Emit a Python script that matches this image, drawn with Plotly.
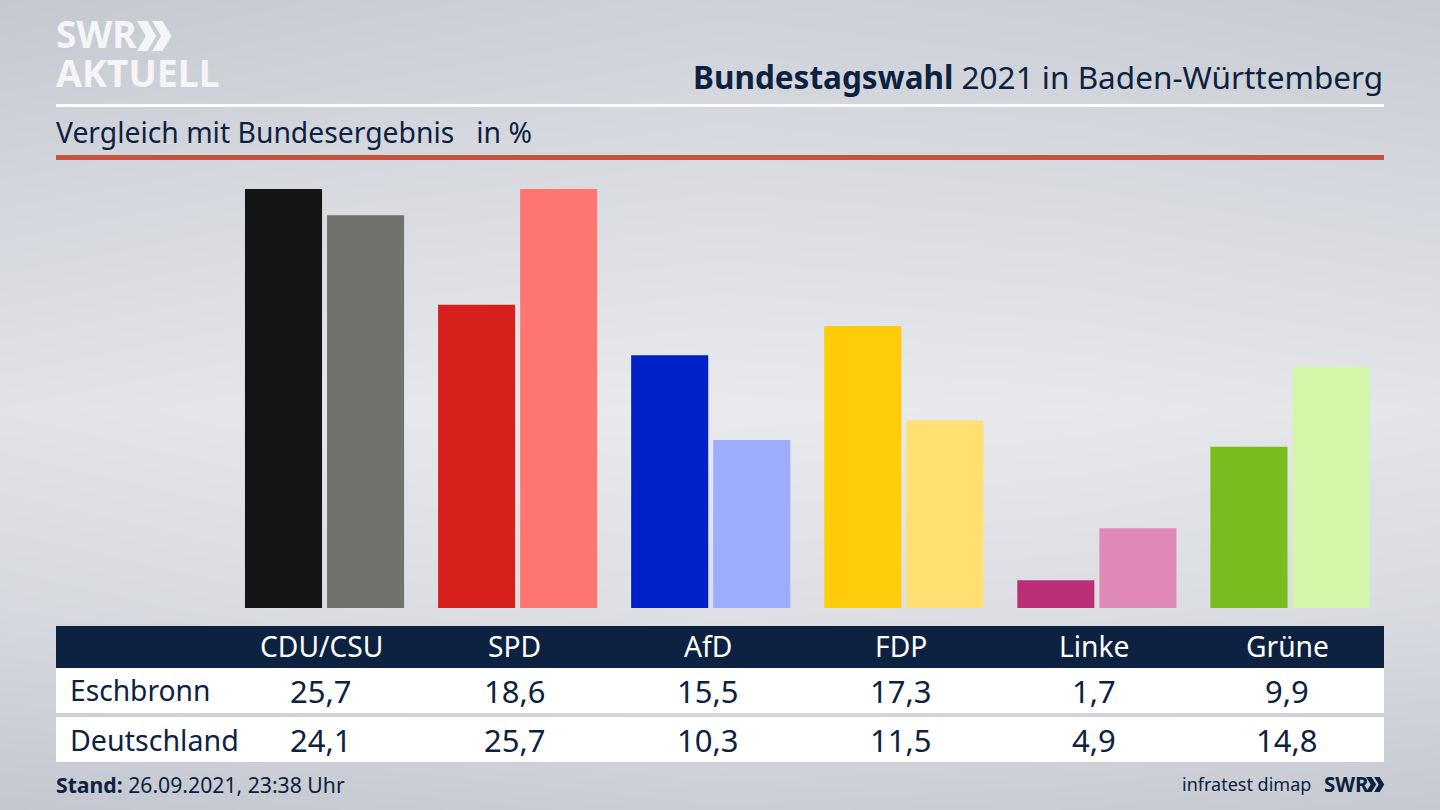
import plotly.graph_objects as go

W, H = 1440, 810
FONT = "Noto Sans"
NAVY = "#0d2240"

parties = ["CDU/CSU", "SPD", "AfD", "FDP", "Linke", "Grüne"]
eschbronn = [25.7, 18.6, 15.5, 17.3, 1.7, 9.9]
deutschland = [24.1, 25.7, 10.3, 11.5, 4.9, 14.8]
eschbronn_labels = ["25,7", "18,6", "15,5", "17,3", "1,7", "9,9"]
deutschland_labels = ["24,1", "25,7", "10,3", "11,5", "4,9", "14,8"]
colors_local = ["#141414", "#d7201c", "#0020c8", "#ffcc0a", "#bc2e78", "#78bc1e"]
colors_bund = ["#72716e", "#ff7670", "#9eaeff", "#ffe070", "#e088b6", "#d4f6a8"]

# backdrop brightness, rows bottom to top, columns left to right
bg_y = [0, 200, 400, 600, 810]
bg_x = [0, 360, 720, 1080, 1440]
bg_z = [
    [196, 200, 204, 202, 198],
    [216, 221, 224, 222, 218],
    [228, 233, 236, 234, 230],
    [214, 219, 222, 220, 216],
    [197, 203, 208, 205, 200],
]


def sx(px):
    return px / W


def sy(px):
    return 1 - px / H


def rect(x0, y0, x1, y1, color):
    return dict(type="rect", xref="paper", yref="paper", x0=sx(x0), x1=sx(x1), y0=sy(y0), y1=sy(y1),
                fillcolor=color, line_width=0, layer="above")


def chevrons(x, top, bottom, w, color):
    # the two arrows of the SWR logo
    mid = (top + bottom) / 2
    out = []
    for off in (0, w * 0.95):
        pts = [(x + off, top), (x + off + w * 0.65, top), (x + off + w * 1.2, mid),
               (x + off + w * 0.65, bottom), (x + off, bottom), (x + off + w * 0.55, mid)]
        path = "M" + " L".join(f"{sx(a):.5f},{sy(b):.5f}" for a, b in pts) + " Z"
        out.append(dict(type="path", xref="paper", yref="paper", path=path, fillcolor=color, line_width=0, layer="above"))
    return out


def label(x, y, text, size, color=NAVY, anchor="center"):
    return dict(xref="paper", yref="paper", x=sx(x), y=sy(y), text=text, showarrow=False, xanchor=anchor,
                yanchor="middle", font=dict(family=FONT, size=size, color=color))


fig = go.Figure()
fig.add_trace(go.Heatmap(x=bg_x, y=bg_y, z=bg_z, zsmooth="best", showscale=False, hoverinfo="skip",
                         zmin=190, zmax=240, colorscale=[[0, "#bec2cb"], [1, "#ecedf0"]], xaxis="x", yaxis="y"))
fig.add_trace(go.Bar(x=parties, y=eschbronn, marker_color=colors_local, marker_line_width=0, xaxis="x2", yaxis="y2"))
fig.add_trace(go.Bar(x=parties, y=deutschland, marker_color=colors_bund, marker_line_width=0, xaxis="x2", yaxis="y2"))

shapes = [
    rect(56, 104, 1384, 107, "#ffffff"),
    rect(56, 155, 1384, 160, "#c8503c"),
    rect(56, 626, 1384, 668, NAVY),
    rect(56, 668, 1384, 713, "#ffffff"),
    rect(56, 717, 1384, 762, "#ffffff"),
]
shapes += chevrons(137, 21, 51, 16, "#f4f5f6")
shapes += chevrons(1366, 777, 792, 8.5, NAVY)

col_x = [321, 514.5, 708, 901, 1094, 1287]
annotations = [
    label(54, 34, "<b>SWR</b>", 37, "#f4f5f6", "left"),
    label(54, 72, "<b>AKTUELL</b>", 37.5, "#f4f5f6", "left"),
    label(1385, 76, "<b>Bundestagswahl</b> 2021 in Baden-Württemberg", 31.5, anchor="right"),
    label(54, 132, "Vergleich mit Bundesergebnis   in %", 28.3, anchor="left"),
    label(68, 690, "Eschbronn", 28.2, anchor="left"),
    label(68, 739, "Deutschland", 28.6, anchor="left"),
    label(54, 784, "<b>Stand:</b> 26.09.2021, 23:38 Uhr", 21.2, anchor="left"),
    label(1313, 784, "infratest dimap", 18, anchor="right"),
    label(1322, 784, "<b>SWR</b>", 20.5, anchor="left"),
]
for i, x in enumerate(col_x):
    annotations.append(label(x, 646, parties[i], 28.2, "#ffffff"))
    annotations.append(label(x, 691, eschbronn_labels[i], 31))
    annotations.append(label(x, 740, deutschland_labels[i], 31))

fig.update_layout(
    width=W, height=H, autosize=False, margin=dict(l=0, r=0, t=0, b=0), showlegend=False,
    barmode="group", bargap=0.15, bargroupgap=0.061, paper_bgcolor="#dfe0e4", plot_bgcolor="rgba(0,0,0,0)",
    xaxis=dict(domain=[0, 1], range=[0, 1440], visible=False, fixedrange=True),
    yaxis=dict(domain=[0, 1], range=[0, 810], visible=False, fixedrange=True),
    xaxis2=dict(domain=[sx(228), sx(1386.5)], range=[-0.5, 5.5], anchor="y2", visible=False, fixedrange=True),
    yaxis2=dict(domain=[sy(608), sy(151.6)], range=[0, 28], anchor="x2", visible=False, fixedrange=True),
    shapes=shapes, annotations=annotations,
)
fig.write_html("out.html", config=dict(displayModeBar=False), post_script="document.body.style.margin='0'")
